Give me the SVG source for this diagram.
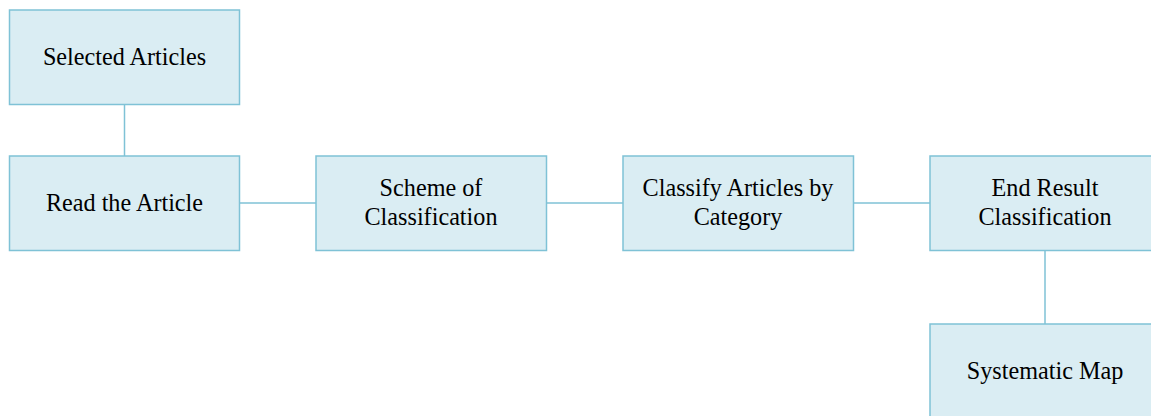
<svg xmlns="http://www.w3.org/2000/svg" width="1151" height="416" viewBox="0 0 1151 416">
<style>
.box{fill:#daedf3;stroke:#7fc2d6;stroke-width:1.5}
.lbl{font-family:"Liberation Serif","Times New Roman",serif;font-size:24.2px;fill:#000;text-anchor:middle}
.conn{stroke:#7fc2d6;stroke-width:1.5;fill:none}
</style>
<rect width="1151" height="416" fill="#ffffff"/>
<g id="connectors">
<line class="conn" x1="124.5" y1="104.5" x2="124.5" y2="156"/>
<line class="conn" x1="239.5" y1="203" x2="316" y2="203"/>
<line class="conn" x1="546.5" y1="203" x2="623" y2="203"/>
<line class="conn" x1="853.5" y1="203" x2="930" y2="203"/>
<line class="conn" x1="1045" y1="250.5" x2="1045" y2="324"/>
</g>
<g id="selected">
<rect class="box" x="9.5" y="10" width="230" height="94.5"/>
<text class="lbl" x="124.5" y="64.5">Selected Articles</text>
</g>
<g id="read">
<rect class="box" x="9.5" y="156" width="230" height="94.5"/>
<text class="lbl" x="124.5" y="210.5">Read the Article</text>
</g>
<g id="scheme">
<rect class="box" x="316" y="156" width="230.5" height="94.5"/>
<text class="lbl" x="431" y="196">Scheme of</text>
<text class="lbl" x="431" y="225">Classification</text>
</g>
<g id="classify">
<rect class="box" x="623" y="156" width="230.5" height="94.5"/>
<text class="lbl" x="738" y="196">Classify Articles by</text>
<text class="lbl" x="738" y="225">Category</text>
</g>
<g id="endresult">
<rect class="box" x="930" y="156" width="230" height="94.5"/>
<text class="lbl" x="1045" y="196">End Result</text>
<text class="lbl" x="1045" y="225">Classification</text>
</g>
<g id="map">
<rect class="box" x="930" y="324" width="230" height="94.5"/>
<text class="lbl" x="1045" y="378.5">Systematic Map</text>
</g>
</svg>
